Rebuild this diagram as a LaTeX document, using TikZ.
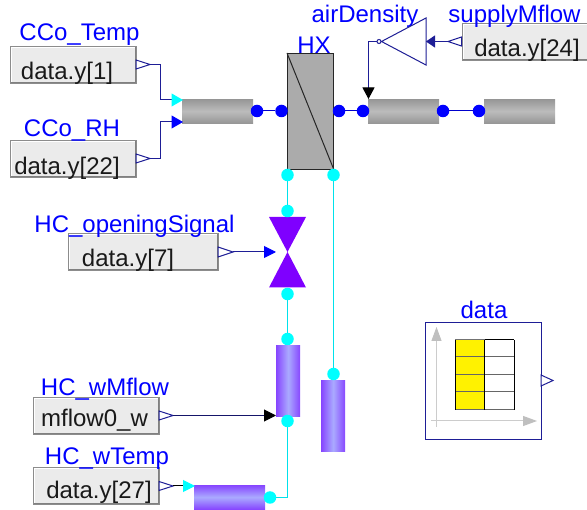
\documentclass[tikz,border=0pt]{standalone}
\usepackage{fontspec}
\setmainfont{Liberation Sans}
\usetikzlibrary{arrows.meta,calc}
\definecolor{navyl}{RGB}{30,30,150}
\definecolor{mblue}{RGB}{0,0,255}
\definecolor{pgrey}{RGB}{150,150,150}
\definecolor{pgreyc}{RGB}{188,188,188}
\definecolor{ppur}{RGB}{135,70,255}
\definecolor{ppurc}{RGB}{170,170,255}
\definecolor{vpur}{RGB}{127,0,255}
\definecolor{boxf}{RGB}{235,235,235}
\definecolor{wcy}{RGB}{0,255,255}
\definecolor{wlc}{RGB}{0,225,235}
\tikzset{
  srcbox/.style={draw=gray!90,line width=1pt,fill=boxf,inner sep=0pt,minimum width=#1,minimum height=37pt,anchor=north west,
    path picture={
      \draw[white,line width=3pt] (path picture bounding box.south west) -- (path picture bounding box.north west) -- (path picture bounding box.north east);
      \draw[gray,line width=3pt] (path picture bounding box.south west) -- (path picture bounding box.south east) -- (path picture bounding box.north east);
    }},
  boxtext/.style={font=\fontsize{24}{25}\selectfont,text=black!90,inner sep=0pt},
  name label/.style={font=\fontsize{24}{25}\selectfont,text=mblue,inner sep=0pt},
  hpipe/.style={inner sep=0pt,minimum width=71pt,minimum height=24pt,anchor=north west,top color=pgrey,bottom color=pgrey,middle color=pgreyc},
  hpipew/.style={inner sep=0pt,minimum width=71pt,minimum height=24pt,anchor=north west,top color=ppur,bottom color=ppur,middle color=ppurc},
  vpipew/.style={inner sep=0pt,minimum width=24pt,minimum height=71pt,anchor=north west,left color=ppur,right color=ppur,middle color=ppurc},
  adot/.style={circle,fill=mblue,inner sep=0pt,minimum size=12.5pt},
  wdot/.style={circle,fill=wcy,inner sep=0pt,minimum size=12.5pt},
  wline/.style={color=wlc,line width=1.3pt},
  aline/.style={draw=mblue!80!black,line width=1pt},
  sig/.style={draw=navyl,line width=1pt},
  outtri/.style={draw=navyl,line width=1pt,fill=white,line join=miter},
}
\begin{document}
\begin{tikzpicture}[x=1pt,y=-1pt]
\useasboundingbox (0,0) rectangle (587,510);

\coordinate (hxdl) at (287.5,175);
\coordinate (hxdr) at (333.5,175);

% source boxes
\node[srcbox=126pt] (b1) at (10,46) {};
\node[srcbox=126pt] (b2) at (10,140) {};
\node[srcbox=150pt] (b3) at (68,233.5) {};
\node[srcbox=126pt] (b4) at (33,397) {};
\node[srcbox=126pt] (b5) at (33,467.5) {};
\node[srcbox=140pt] (b6) at (461.5,23) {};
\node[boxtext] (t1) at (67,73) {data.y[1]};
\node[boxtext] (t2) at (67,168) {data.y[22]};
\node[boxtext] (t3) at (128,260) {data.y[7]};
\node[boxtext] (t4) at (94.5,420) {mflow0\_w};
\node[boxtext] (t5) at (99,492.5) {data.y[27]};
\node[boxtext] (t6) at (527,50.5) {data.y[24]};

% labels
\node[name label] (l1) at (79.5,35) {CCo\_Temp};
\node[name label] (l2) at (72,131) {CCo\_RH};
\node[name label] (l3) at (314,45) {HX};
\node[name label] (l4) at (365,16) {airDensity};
\node[name label] (l5) at (514.5,16) {supplyMflow};
\node[name label] (l6) at (134.5,226) {HC\_openingSignal};
\node[name label] (l7) at (105,389) {HC\_wMflow};
\node[name label] (l8) at (107,459) {HC\_wTemp};
\node[name label] (l9) at (484,310) {data};

% pipes
\node[hpipe] (p1) at (182,99) {};
\node[hpipe] (p2) at (368,99) {};
\node[hpipe] (p3) at (484,99) {};
\node[vpipew] (p4) at (276,345) {};
\node[vpipew] (p5) at (321,380) {};
\node[hpipew] (p6) at (194,485) {};

% HX
\node[draw=black!85,line width=1pt,fill=black!33,minimum width=46pt,minimum height=116pt,inner sep=0pt,anchor=north west] (hx) at (287,53) {};
\draw[black!85,line width=1pt] (hx.north west) -- (hx.south east);

% valve
\coordinate (vc) at (287.5,252);
\fill[vpur] (269,217) -- (306,217) -- (vc) -- (306,287.5) -- (269,287.5) -- (vc) -- cycle;

% dots
\node[adot] (d1) at (257,111) {};
\node[adot] (d2) at (281.5,111) {};
\node[adot] (d3) at (339,111) {};
\node[adot] (d4) at (363,111) {};
\node[adot] (d5) at (443,111) {};
\node[adot] (d6) at (479,111) {};
\node[wdot] (w1) at (hxdl) {};
\node[wdot] (w2) at (hxdr) {};
\node[wdot] (w3) at (287.5,211) {};
\node[wdot] (w4) at (287.5,294) {};
\node[wdot] (w5) at (287.5,339) {};
\node[wdot] (w6) at (287.5,421) {};
\node[wdot] (w7) at (333.5,374) {};
\node[wdot] (w8) at (270,497.5) {};

\draw[aline] (d1) -- (d2);
\draw[aline] (d3) -- (d4);
\draw[aline] (d5) -- (d6);
\draw[wline] (w1) -- (w3);
\draw[wline] (w2) -- (w7);
\draw[wline] (w4) -- (w5);
\draw[wline] (w6) |- (w8);

% gain
\node[draw=navyl,line width=1pt,fill=white,circle,inner sep=0pt,minimum size=4pt] (gc) at (379,41.5) {};
\draw[navyl,line width=1pt,fill=white,line join=miter] (426,18) -- (426,65) -- (gc.east) -- cycle;
\coordinate (gin) at (426,41.5);

% output triangles and signal ends
\draw[outtri] (136,60) -- (150,64.5) -- (136,69) -- cycle;
\coordinate (o1) at (150,64.5);
\draw[outtri] (136,154) -- (150,158.5) -- (136,163) -- cycle;
\coordinate (o2) at (150,158.5);
\draw[outtri] (218,247) -- (233,252) -- (218,257) -- cycle;
\coordinate (o3) at (233,252);
\draw[outtri] (159,411) -- (173,415.5) -- (159,420) -- cycle;
\coordinate (o4) at (173,415.5);
\draw[outtri] (159,481.5) -- (173,486) -- (159,490.5) -- cycle;
\coordinate (o5) at (173,486);
\draw[outtri] (461.5,37) -- (448,41.5) -- (461.5,46) -- cycle;
\coordinate (o6) at (448,41.5);

\coordinate (i1) at (183,100);
\coordinate (i2) at (183,122);
\coordinate (i3) at (276,252);
\coordinate (i4) at (276,415.5);
\coordinate (i5) at (195,486);
\coordinate (i6) at (368.5,99);

% signal connectors
\draw[sig,-{Triangle[length=11.5pt,width=13pt,color=wcy]}] (o1) -- ++(10,0) |- (i1);
\draw[sig,-{Triangle[length=11.5pt,width=13pt,color=mblue]}] (o2) -- ++(10,0) |- (i2);
\draw[sig,-{Triangle[length=12pt,width=12pt,color=mblue]}] (o3) -- (i3);
\draw[draw=black!30!navyl,line width=1pt,-{Triangle[length=12pt,width=12pt,color=black]}] (o4) -- (i4);
\draw[black,line width=1pt,-{Triangle[length=12pt,width=12pt,color=wcy]}] (o5) -- (i5);
\draw[sig,-{Triangle[length=9pt,width=12pt,color=navyl]}] (o6) -- (gin);
\draw[sig,-{Triangle[length=11.5pt,width=12pt,color=black]}] (gc.west) -| (i6);

% data block
\node[draw=navyl,line width=1pt,fill=white,minimum width=116pt,minimum height=117pt,inner sep=0pt,anchor=north west] (data) at (425,322) {};
\coordinate (ay0) at (436.5,427);
\coordinate (ay1) at (436.5,327);
\coordinate (ax0) at (431,421);
\coordinate (ax1) at (537,421);
\draw[black!20,line width=1pt,-{Triangle[length=14pt,width=10pt,color=black!25]}] (ay0) -- (ay1);
\draw[black!20,line width=1pt,-{Triangle[length=14pt,width=10pt,color=black!25]}] (ax0) -- (ax1);
\fill[yellow] (455,340) rectangle (484.5,410);
\draw[black!55,line width=1pt] (455,340) -- (484.5,340);
\draw[black,line width=1pt] (484.5,340) -- (514,340);
\foreach \r in {357,374.5,391.5} \draw[black!60,line width=1pt] (455,\r) -- (514,\r);
\draw[black!60,line width=1pt] (455,410) -- (514,410);
\draw[black,line width=1pt] (455,340) -- (455,410);
\draw[black,line width=1pt] (484.5,340) -- (484.5,410);
\draw[black,line width=1pt] (514,340) -- (514,410);
\draw[outtri] (541,375) -- (553,380.5) -- (541,386) -- cycle;
\end{tikzpicture}
\end{document}
